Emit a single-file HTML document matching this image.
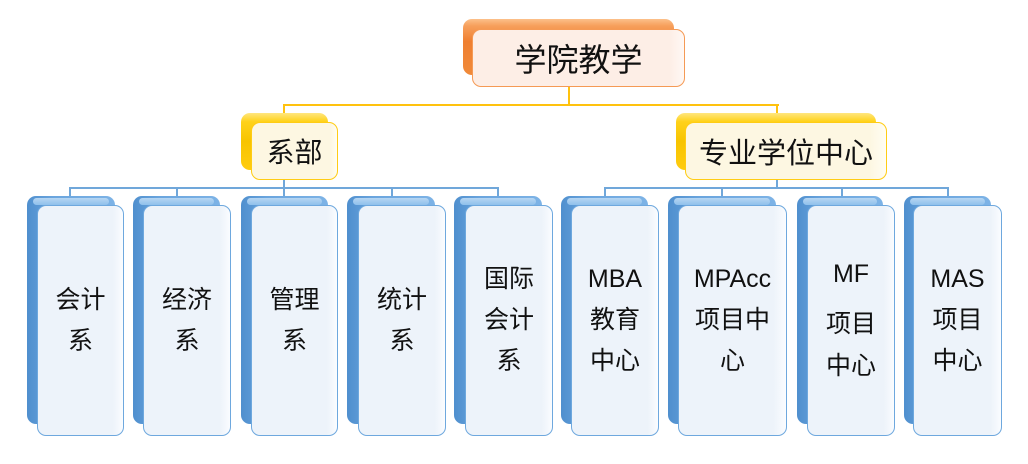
<!DOCTYPE html>
<html><head><meta charset="utf-8"><style>
html,body{margin:0;padding:0;background:#fff;}
body{width:1028px;height:464px;position:relative;overflow:hidden;font-family:"Liberation Sans","Noto Sans CJK SC",sans-serif;color:#111;}
.a{position:absolute;box-sizing:border-box;}
.bk{border-radius:9px;}
.fr{border-radius:9px;display:flex;align-items:center;justify-content:center;text-align:center;flex-direction:column;}
.ob{background:linear-gradient(180deg,#fcc08a 0,#f7a05c 12%,#ef7f30 40%,#f08a3a 100%);}
.of{background:linear-gradient(90deg,#fdeee6 0,#fdeee6 93%,#fff8f4 100%);border:1.5px solid #f59a55;}
.yb{background:linear-gradient(180deg,#ffe680 0,#ffd21a 15%,#f7c400 50%,#ffcc10 100%);}
.yf{background:linear-gradient(90deg,#fdf7e2 0,#fdf7e2 92%,#fffdf3 100%);border:1.5px solid #ffcc14;}
.bb{background:linear-gradient(90deg,#4f8fce 0,#6aa5de 30%,#7db3e6 100%);}
.bb:before{content:"";position:absolute;left:6px;right:6px;top:2px;height:7px;border-radius:5px;background:linear-gradient(180deg,#b7d6f3,#8fc0ec);}
.bf{background:linear-gradient(90deg,#edf3fa 0,#edf3fa 88%,#fafcff 100%);border:1.5px solid #6ea8de;font-size:25px;}
.ln{position:absolute;}
.y{background:#ffc20e;}
.b{background:#70a7da;}
.t{line-height:41px;white-space:nowrap;}
</style></head><body>

<!-- yellow connectors -->
<div class="ln y" style="left:568px;top:87px;width:2px;height:19px"></div>
<div class="ln y" style="left:283px;top:104px;width:496px;height:2px"></div>
<div class="ln y" style="left:283px;top:104px;width:2px;height:10px"></div>
<div class="ln y" style="left:776px;top:104px;width:2px;height:10px"></div>

<!-- blue connectors -->
<div class="ln b" style="left:283px;top:180px;width:2px;height:8px"></div>
<div class="ln b" style="left:776px;top:180px;width:2px;height:8px"></div>
<div class="ln b" style="left:69px;top:187px;width:430px;height:1.5px"></div>
<div class="ln b" style="left:604px;top:187px;width:345px;height:1.5px"></div>
<div class="ln b" style="left:69px;top:187px;width:1.5px;height:10px"></div>
<div class="ln b" style="left:176px;top:187px;width:1.5px;height:10px"></div>
<div class="ln b" style="left:283px;top:187px;width:1.5px;height:10px"></div>
<div class="ln b" style="left:391px;top:187px;width:1.5px;height:10px"></div>
<div class="ln b" style="left:497px;top:187px;width:1.5px;height:10px"></div>
<div class="ln b" style="left:604px;top:187px;width:1.5px;height:10px"></div>
<div class="ln b" style="left:721px;top:187px;width:1.5px;height:10px"></div>
<div class="ln b" style="left:841px;top:187px;width:1.5px;height:10px"></div>
<div class="ln b" style="left:947px;top:187px;width:1.5px;height:10px"></div>

<!-- top node -->
<div class="a bk ob" style="left:463px;top:19px;width:211px;height:56px"></div>
<div class="a fr of" style="left:472px;top:29px;width:213px;height:58px;font-size:32px;">学院教学</div>

<!-- level 2 -->
<div class="a bk yb" style="left:241px;top:113px;width:87px;height:57px"></div>
<div class="a fr yf" style="left:251px;top:122px;width:87px;height:58px;font-size:28px;">系部</div>
<div class="a bk yb" style="left:676px;top:113px;width:200px;height:57px"></div>
<div class="a fr yf" style="left:685px;top:122px;width:202px;height:58px;font-size:29px;">专业学位中心</div>

<!-- leaves -->
<div class="a bk bb" style="left:27px;top:196px;width:88px;height:228px"></div>
<div class="a fr bf" style="left:37px;top:205px;width:87px;height:231px"><div class="t">会计</div><div class="t">系</div></div>

<div class="a bk bb" style="left:133px;top:196px;width:87px;height:228px"></div>
<div class="a fr bf" style="left:143px;top:205px;width:88px;height:231px"><div class="t">经济</div><div class="t">系</div></div>

<div class="a bk bb" style="left:241px;top:196px;width:87px;height:228px"></div>
<div class="a fr bf" style="left:251px;top:205px;width:87px;height:231px"><div class="t">管理</div><div class="t">系</div></div>

<div class="a bk bb" style="left:347px;top:196px;width:88px;height:228px"></div>
<div class="a fr bf" style="left:358px;top:205px;width:88px;height:231px"><div class="t">统计</div><div class="t">系</div></div>

<div class="a bk bb" style="left:454px;top:196px;width:88px;height:228px"></div>
<div class="a fr bf" style="left:465px;top:205px;width:88px;height:231px"><div class="t">国际</div><div class="t">会计</div><div class="t">系</div></div>

<div class="a bk bb" style="left:561px;top:196px;width:87px;height:228px"></div>
<div class="a fr bf" style="left:571px;top:205px;width:88px;height:231px"><div class="t">MBA</div><div class="t">教育</div><div class="t">中心</div></div>

<div class="a bk bb" style="left:668px;top:196px;width:108px;height:228px"></div>
<div class="a fr bf" style="left:678px;top:205px;width:109px;height:231px"><div class="t">MPAcc</div><div class="t">项目中</div><div class="t">心</div></div>

<div class="a bk bb" style="left:797px;top:196px;width:86px;height:228px"></div>
<div class="a fr bf" style="left:807px;top:205px;width:88px;height:231px"><div class="t" style="line-height:57px;margin-top:-8px">MF</div><div class="t" style="line-height:42px">项目</div><div class="t" style="line-height:42px">中心</div></div>

<div class="a bk bb" style="left:904px;top:196px;width:87px;height:228px"></div>
<div class="a fr bf" style="left:913px;top:205px;width:89px;height:231px"><div class="t">MAS</div><div class="t">项目</div><div class="t">中心</div></div>

</body></html>
